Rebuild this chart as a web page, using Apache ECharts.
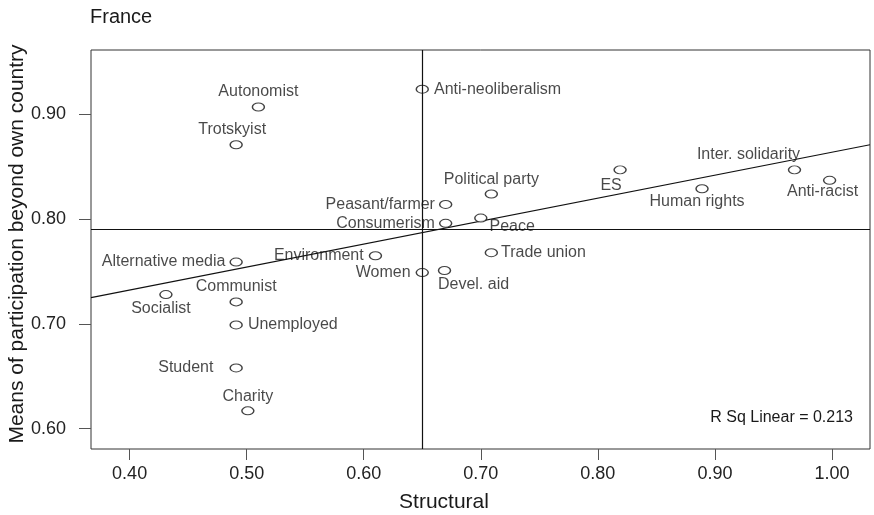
<!DOCTYPE html>
<html>
<head>
<meta charset="utf-8">
<title>France</title>
<script src="https://cdn.jsdelivr.net/npm/echarts@6/dist/echarts.min.js"></script>
<style>
  html, body { margin: 0; padding: 0; background: #fff; }
  #chart { width: 874px; height: 515px; }
</style>
</head>
<body>
<div id="chart"></div>
<script>
// groups
const groups = ['Anti-neoliberalism', 'Autonomist', 'Trotskyist', 'Political party', 'Peasant/farmer',
  'Consumerism', 'Peace', 'ES', 'Human rights', 'Inter. solidarity', 'Anti-racist', 'Environment',
  'Alternative media', 'Trade union', 'Women', 'Devel. aid', 'Communist', 'Socialist', 'Unemployed',
  'Student', 'Charity']
const structural = [0.650, 0.510, 0.491, 0.709, 0.670, 0.670, 0.700, 0.819, 0.889, 0.968, 0.998, 0.610,
  0.491, 0.709, 0.650, 0.669, 0.491, 0.431, 0.491, 0.491, 0.501]
const participation = [0.924, 0.907, 0.871, 0.824, 0.814, 0.796, 0.801, 0.847, 0.829, 0.847, 0.837, 0.765,
  0.759, 0.768, 0.749, 0.751, 0.721, 0.728, 0.699, 0.658, 0.617]

const xTicks = [0.4, 0.5, 0.6, 0.7, 0.8, 0.9, 1.0]
const yTicks = [0.6, 0.7, 0.8, 0.9]
const meanX = 0.647
const meanY = 0.7865
const fitX = [0.367, 1.0325]
const fitY = [0.725, 0.871]
const rSquare = '0.213'

const font = "'Liberation Sans', Arial, sans-serif"

// where each label sits next to its point: [position, distance, dx, dy]
const labelPlace = {
  'Anti-neoliberalism': ['right', 5, 0, 0],
  'Autonomist': ['top', 3, 0, 0],
  'Trotskyist': ['top', 3, -4, 0],
  'Political party': ['top', 2, 0, 0],
  'Peasant/farmer': ['left', 4, 0, 0],
  'Consumerism': ['left', 4, 0, 0],
  'Peace': ['right', 2, 0, 9],
  'ES': ['bottom', 3, -9, 0],
  'Human rights': ['bottom', 0, -5, 0],
  'Inter. solidarity': ['top', 3, -46, 0],
  'Anti-racist': ['bottom', 0, -7, -1],
  'Environment': ['left', 5, 0, 0],
  'Alternative media': ['left', 4, 0, 0],
  'Trade union': ['right', 3, 0, 0],
  'Women': ['left', 5, 0, 0],
  'Devel. aid': ['bottom', 2, 29, 0],
  'Communist': ['top', 3, 0, 0],
  'Socialist': ['bottom', 2, -5, 0],
  'Unemployed': ['right', 5, 0, 0],
  'Student': ['left', 16, 0, 0],
  'Charity': ['top', 2, 0, 0],
}

const points = groups.map((name, i) => {
  const p = labelPlace[name]
  return {
    name: name,
    value: [structural[i], participation[i]],
    label: {position: p[0], distance: p[1]},
  }
})

const chart = echarts.init(document.getElementById('chart'))

const options = {
  backgroundColor: '#fff',
  animation: false,
  grid: {
    left: 91,
    top: 50,
    right: 4,
    bottom: 66,
    show: true,
    borderColor: '#333',
    borderWidth: 1,
  },
  xAxis: {
    type: 'value',
    min: 0.367,
    max: 1.0325,
    axisLine: {show: false},
    splitLine: {show: false},
    axisTick: {
      show: true,
      length: 11,
      customValues: xTicks,
      lineStyle: {color: '#555', width: 1},
    },
    axisLabel: {
      customValues: xTicks,
      margin: 16,
      color: '#222',
      fontSize: 18,
      fontFamily: font,
      formatter: v => v.toFixed(2),
    },
  },
  yAxis: {
    type: 'value',
    min: 0.5806,
    max: 0.9614,
    axisLine: {show: false},
    splitLine: {show: false},
    axisTick: {
      show: true,
      length: 12,
      customValues: yTicks,
      lineStyle: {color: '#555', width: 1},
    },
    axisLabel: {
      customValues: yTicks,
      margin: 25,
      color: '#222',
      fontSize: 18,
      fontFamily: font,
      formatter: v => v.toFixed(2),
    },
  },
  series: [
    {
      type: 'line',
      data: fitX.map((x, i) => [x, fitY[i]]),
      showSymbol: false,
      silent: true,
      lineStyle: {color: '#111', width: 1.2},
      z: 2,
      markLine: {
        silent: true,
        symbol: 'none',
        label: {show: false},
        lineStyle: {color: '#111', width: 1.2, type: 'solid'},
        data: [{xAxis: meanX}, {yAxis: meanY}],
      },
    },
    {
      type: 'scatter',
      data: points,
      symbol: 'circle',
      symbolSize: [12, 8],
      z: 3,
      itemStyle: {
        color: '#fff',
        borderColor: '#111',
        borderWidth: 1.2,
      },
      label: {
        show: true,
        formatter: p => p.name,
        color: '#1a1a1a',
        fontSize: 16,
        fontFamily: font,
      },
      labelLayout: params => {
        const p = labelPlace[groups[params.dataIndex]]
        return {dx: p[2], dy: p[3]}
      },
    },
  ],
  graphic: [
    {
      type: 'text',
      x: 90,
      y: 17,
      style: {text: 'France', fill: '#1a1a1a', fontSize: 20, fontFamily: font, align: 'left', verticalAlign: 'middle'},
    },
    {
      type: 'text',
      x: 17,
      y: 244,
      rotation: Math.PI / 2,
      style: {
        text: 'Means of participation beyond own country',
        fill: '#1a1a1a', fontSize: 21, fontFamily: font, align: 'center', verticalAlign: 'middle',
      },
    },
    {
      type: 'text',
      x: 444,
      y: 502,
      style: {text: 'Structural', fill: '#1a1a1a', fontSize: 21, fontFamily: font, align: 'center', verticalAlign: 'middle'},
    },
    {
      type: 'text',
      x: 853,
      y: 418,
      style: {text: 'R Sq Linear = ' + rSquare, fill: '#1a1a1a', fontSize: 16, fontFamily: font, align: 'right', verticalAlign: 'middle'},
    },
  ],
}

options && chart.setOption(options)
</script>
</body>
</html>
